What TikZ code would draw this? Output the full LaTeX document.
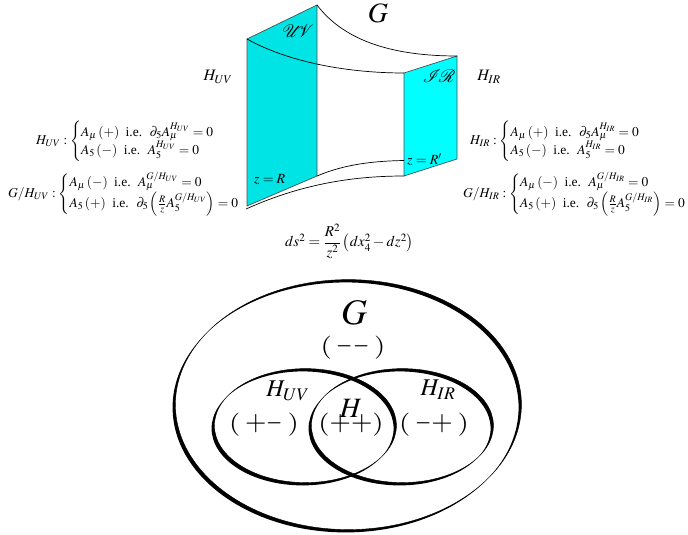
\documentclass[tikz,border=0pt]{standalone}
\usepackage{amsmath}
\usepackage{mathptmx}
\usepackage{fontspec}
\setmainfont{Liberation Serif}
\usetikzlibrary{arrows}
\definecolor{uvcyan}{RGB}{0,228,230}
\definecolor{ircyan}{RGB}{0,255,255}
\definecolor{edgegray}{RGB}{70,80,80}
\newcommand{\brushellipse}[4]{%
	\fill[even odd rule] (#1+1.4,#2-1.4) ellipse (#3 and #4) (#1-1.4,#2+1.4) ellipse (#3 and #4);
	\draw[line width=0.4pt] (#1+1.4,#2-1.4) ellipse (#3 and #4);
}
\newcommand{\lpar}{\scalebox{1.0}[0.8]{$($}}
\newcommand{\rpar}{\scalebox{1.0}[0.8]{$)$}}
\newcommand{\pplus}{\scalebox{0.95}{$+$}}
\newcommand{\pminus}{\scalebox{0.72}[1]{$-$}}
\tikzset{
	eqn/.style={anchor=west, inner sep=0pt, font=\fontsize{13.5}{15}\selectfont},
	bulklabel/.style={inner sep=0pt, font=\fontsize{16}{18}\selectfont},
	braneletter/.style={inner sep=0pt, font=\fontsize{18}{20}\selectfont},
	vennbig/.style={inner sep=0pt, font=\fontsize{36}{38}\selectfont},
	vennmid/.style={inner sep=0pt, font=\fontsize{24}{26}\selectfont},
	parity/.style={inner sep=0pt, font=\fontsize{29}{31}\selectfont}
}
\begin{document}
\begin{tikzpicture}[x=1pt, y=-1pt]
		\useasboundingbox (0,0) rectangle (688,535);
		% branes
		\filldraw[fill=uvcyan, draw=edgegray, line width=0.7pt] (247,39) -- (317,5) -- (317,176) -- (247,206) -- cycle;
		\filldraw[fill=ircyan, draw=edgegray, line width=0.7pt] (404,73) -- (457,56) -- (457,159) -- (404,176) -- cycle;
		\draw[line width=0.7pt] (247,39) .. controls (290,63) and (350,73) .. (404,73);
		\draw[line width=0.7pt] (317,5) .. controls (345,42) and (395,56) .. (457,56);
		\draw[line width=0.7pt] (317,176) .. controls (345,164) and (375,161) .. (404,160.5);
		\draw[line width=0.7pt] (246,209) .. controls (295,187) and (345,176) .. (404,176);
		\node[inner sep=0pt, font=\fontsize{28}{30}\selectfont] (bulk) at (378,13) {$G$};
		\node[braneletter] (uvlabel) at (298,31) {$\mathcal{U}\!\!\mathcal{V}$};
		\node[braneletter] (irlabel) at (439,76) {$\mathcal{I}\!\mathcal{R}$};
		\node[bulklabel] (huv) at (218,77) {$H_{UV}$};
		\node[bulklabel] (hir) at (489,77) {$H_{IR}$};
		\node[eqn] (zuv) at (254,180) {\fontsize{14}{15}\selectfont$z=R$};
		\node[eqn] (zir) at (407,160) {\fontsize{14}{15}\selectfont$z=R'$};
		% boundary conditions
		\node[eqn] (bcuv) at (36,141.5) {$H_{UV}:\begin{cases} A_\mu\,(+)\;\text{ i.e. }\;\partial_5 A_\mu^{H_{UV}}=0\\ A_5\,(-)\;\text{ i.e. }\;A_5^{H_{UV}}=0\end{cases}$};
		\node[eqn] (bcguv) at (8,194) {$G/H_{UV}:\begin{cases} A_\mu\,(-)\;\text{ i.e. }\;A_\mu^{G/H_{UV}}=0\\ A_5\,(+)\;\text{ i.e. }\;\partial_5\left(\frac{R}{z}A_5^{G/H_{UV}}\right)=0\end{cases}$};
		\node[eqn] (bcir) at (470,141.5) {$H_{IR}:\begin{cases} A_\mu\,(+)\;\text{ i.e. }\;\partial_5 A_\mu^{H_{IR}}=0\\ A_5\,(-)\;\text{ i.e. }\;A_5^{H_{IR}}=0\end{cases}$};
		\node[eqn] (bcgir) at (463,194) {$G/H_{IR}:\begin{cases} A_\mu\,(-)\;\text{ i.e. }\;A_\mu^{G/H_{IR}}=0\\ A_5\,(+)\;\text{ i.e. }\;\partial_5\left(\frac{R}{z}A_5^{G/H_{IR}}\right)=0\end{cases}$};
		\node[eqn] (metric) at (285,241) {\fontsize{15}{17}\selectfont$ds^2=\dfrac{R^2}{z^2}\left(dx_4^2-dz^2\right)$};
		% group diagram
		\brushellipse{347}{406}{173}{125}
		\brushellipse{304}{427}{91}{57}
		\brushellipse{401}{427}{91}{57}
		\node[vennbig] (gbig) at (354,313) {$G$};
		\node[vennmid] (huvbig) at (288,391) {$H_{UV}$};
		\node[vennmid] (hirbig) at (438,390) {$H_{IR}$};
		\node[vennbig, font=\fontsize{28}{30}\selectfont] (hbig) at (351,408) {$H$};
		\node[parity] (pmm) at (353,348) {\lpar\,\pminus\pminus\,\rpar};
		\node[parity] (ppm) at (264,425) {\lpar\,\pplus\pminus\,\rpar};
		\node[parity] (ppp) at (351,425) {\lpar\pplus\pplus\rpar};
		\node[parity] (pmp) at (434,425) {\lpar\,\pminus\pplus\,\rpar};
	\end{tikzpicture}
\end{document}
